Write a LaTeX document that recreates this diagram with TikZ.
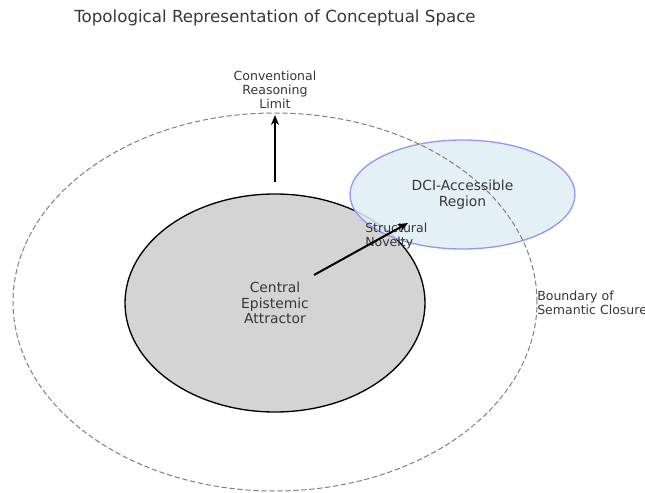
\documentclass[tikz,border=0pt]{standalone}
\usepackage{fontspec}
\setmainfont{DejaVu Sans}
\usetikzlibrary{arrows.meta,shapes.geometric}
\definecolor{dcifill}{RGB}{222,239,245}
\definecolor{dciedge}{RGB}{150,150,245}
\definecolor{txt}{RGB}{55,55,55}
\tikzset{
  region/.style={ellipse,inner sep=0pt},
  small/.style={font=\fontsize{9.4}{10.6}\selectfont,text=txt,align=center,inner sep=0pt},
  mid/.style={font=\fontsize{10.4}{11.8}\selectfont,text=txt,align=center,inner sep=0pt},
  push/.style={line width=1.5pt,-{Stealth[length=7.5pt,width=6pt]}}
}

\begin{document}
\begin{tikzpicture}[x=0.75pt,y=-0.75pt]
  \useasboundingbox (0,0) rectangle (645,492);
  \node[region,minimum width=524*0.75pt,minimum height=378*0.75pt] (closure) at (275,302) {};
  \node[region,draw=black,fill=black!17,line width=1pt,
    minimum width=300*0.75pt,minimum height=218*0.75pt] (attractor) at (275,303) {};
  \node[region,draw=dciedge,fill=dcifill,fill opacity=0.85,line width=1pt,
    minimum width=225*0.75pt,minimum height=109*0.75pt] (dci) at (462.5,194.5) {};
  % boundary on top of the blue region
  \draw[black!50,dash pattern=on 4pt off 2pt,line width=0.75pt]
    (closure.center) ellipse ({262*0.75pt} and {189*0.75pt});
  \node[mid] (attlabel) at (275,303) {Central\\Epistemic\\Attractor};
  \node[mid] (dcilabel) at (462.5,194.5) {DCI-Accessible\\Region};
  \node[small] (limit) at (275,89.5) {Conventional\\Reasoning\\Limit};
  \node[small,align=left,anchor=west] (novelty) at (365,236) {Structural\\Novelty};
  \node[small,align=left,anchor=west] (boundary) at (537,303) {Boundary of\\Semantic Closure};
  \node[font=\fontsize{12.5}{15}\selectfont,text=txt] (title) at (275,18)
    {Topological Representation of Conceptual Space};
  \coordinate (upfrom) at (275,182);
  \coordinate (upto) at (275,115);
  \coordinate (novfrom) at (314,275);
  \coordinate (novto) at (408,223);
  \draw[push] (upfrom) -- (upto);
  \draw[push] (novfrom) -- (novto);
\end{tikzpicture}
\end{document}
